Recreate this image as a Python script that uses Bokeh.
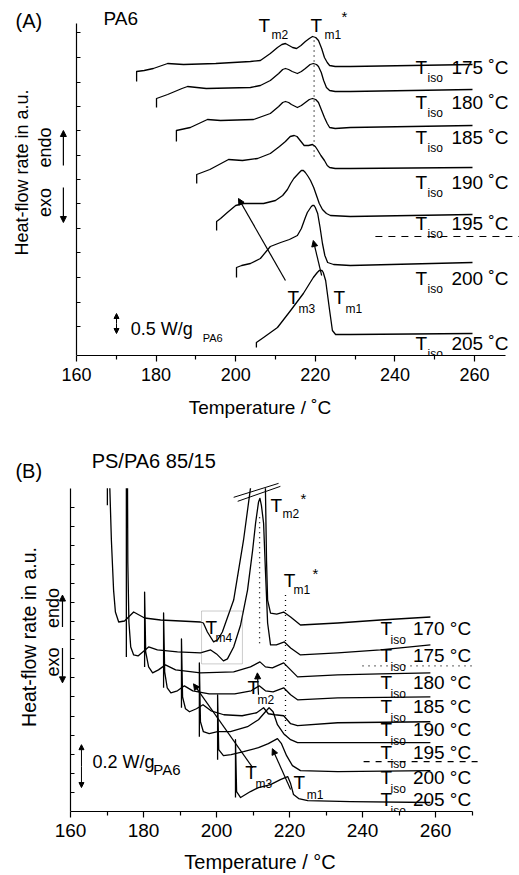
from bokeh.plotting import figure
from bokeh.models import Range1d, FixedTicker, Label, Arrow, NormalHead, BoxAnnotation, LinearAxis
from bokeh.layouts import column
from bokeh.embed import file_html
from bokeh.resources import INLINE

FONT = "Liberation Sans"

# ---------------- Panel A : PA6 (temperature in C, heat flow in a.u.) ----------------
A_TISO = ["175", "180", "185", "190", "195", "200", "205"]
A_T_175 = [175.1, 175.1, 177.0, 179.3, 182.9, 186.9, 195.0, 203.7, 206.2, 208.7, 210.5, 211.6, 212.5, 213.4, 214.3, 215.3, 216.4, 217.5, 218.5, 219.3, 220.1, 220.8, 221.6, 222.3, 223.0, 223.6, 225.0, 228.8, 259.5]
A_Q_175 = [274, 284, 285, 287, 292, 291, 292, 294, 295, 302, 308, 311, 312, 310, 308, 307, 310, 314, 317, 319, 318, 315, 307, 298, 293, 290, 289, 289, 291]
A_T_180 = [180.1, 180.1, 182.9, 186.5, 187.9, 192.6, 203.7, 206.2, 208.7, 210.8, 211.8, 212.5, 213.3, 214.2, 215.5, 216.5, 217.5, 218.7, 219.5, 220.3, 220.8, 221.5, 222.1, 222.8, 223.6, 225.0, 228.8, 259.5]
A_Q_180 = [248, 257, 261, 267, 269, 267, 268, 270, 275, 282, 286, 287, 286, 284, 282, 284, 287, 291, 292, 291, 289, 283, 275, 268, 265, 264, 264, 266]
A_T_185 = [185.1, 185.1, 188.6, 192.9, 196.2, 204.5, 208.7, 210.8, 211.8, 212.5, 213.3, 214.0, 215.5, 216.5, 217.5, 218.5, 219.3, 220.1, 220.8, 221.6, 222.3, 223.0, 223.6, 225.0, 228.8, 259.5]
A_Q_185 = [214, 225, 228, 236, 235, 236, 242, 249, 253, 254, 253, 251, 248, 250, 253, 256, 257, 256, 253, 245, 238, 232, 228, 227, 228, 230]
A_T_190 = [190.2, 190.2, 193.5, 198.2, 201.7, 205.5, 208.7, 211.0, 212.5, 213.7, 214.7, 215.4, 216.0, 217.2, 218.3, 219.3, 220.0, 220.5, 221.4, 222.3, 223.0, 223.6, 225.0, 228.8, 259.5]
A_Q_190 = [172, 181, 186, 196, 195, 197, 202, 209, 214, 219, 220, 219, 216, 210, 210, 211, 209, 206, 200, 195, 190, 188, 187, 187, 188]
A_T_195 = [195.2, 195.2, 196.2, 197.9, 200.0, 202.0, 207.0, 210.0, 211.8, 213.0, 213.8, 214.6, 215.3, 216.0, 216.5, 217.0, 217.5, 218.2, 218.8, 219.6, 220.3, 221.0, 221.8, 222.8, 223.8, 228.8, 259.5]
A_Q_195 = [125, 134, 137, 143, 150, 152, 152, 155, 160, 166, 172, 177, 180, 183, 185, 185, 183, 179, 175, 168, 160, 152, 146, 142, 140, 139, 141]
A_T_200 = [200.2, 200.2, 201.5, 203.7, 206.2, 208.7, 211.3, 213.5, 215.5, 216.5, 217.5, 218.0, 218.5, 219.0, 219.3, 219.7, 220.0, 220.6, 221.2, 221.8, 222.4, 223.1, 224.6, 228.8, 259.5]
A_Q_200 = [78, 88, 90, 92, 97, 109, 113, 116, 120, 127, 138, 143, 146, 149, 150, 150, 148, 142, 128, 112, 100, 93, 91, 90, 93]
A_T_205 = [205.2, 205.2, 207.0, 210.5, 213.8, 217.0, 219.5, 220.5, 221.0, 221.3, 221.7, 222.0, 222.6, 223.1, 223.6, 224.3, 225.1, 228.8, 259.5]
A_Q_205 = [8, 13, 18, 28, 45, 62, 78, 83, 85, 85, 85, 83, 75, 60, 45, 25, 21, 21, 22]
A_XTICKS = [160, 180, 200, 220, 240, 260]
A_XMINOR = [170, 190, 210, 230, 250]
A_YTICKS = [29, 53.5, 78, 103, 127, 152, 176, 200, 225, 249, 273, 298, 323]

# ---------------- Panel B : PS/PA6 85/15 ----------------
B_TISO = ["170", "175", "180", "185", "190", "195", "200", "205"]
B_T_170 = [170.1, 170.1, 170.6, 171.2, 171.8, 172.3, 173.2, 174.8, 177.3, 180.3, 184.7, 195.6, 196.4, 197.5, 199.2, 200.3, 201.6, 204.7, 207.4, 209.3, 210.5, 213.2, 213.4, 213.7, 214.0, 214.8, 216.5, 218.4, 220.3, 223.0, 233.2, 244.9, 258.6]
B_Q_170 = [307, 345, 345, 272, 222, 200, 190, 191, 200, 194, 192, 190, 189, 180, 170, 172, 180, 212, 272, 324, 360, 360, 324, 252, 212, 199, 198, 200, 195, 187, 189, 192, 195]
B_T_175 = [175.3, 175.3, 175.6, 175.7, 176.0, 176.5, 177.3, 178.5, 181.4, 183.8, 189.3, 195.6, 198.4, 200.0, 201.9, 203.0, 204.7, 206.6, 208.5, 209.9, 210.7, 211.5, 211.9, 212.3, 212.9, 213.4, 214.0, 214.8, 216.4, 218.6, 220.3, 223.0, 233.2, 244.9, 258.6]
B_Q_175 = [155, 345, 345, 250, 190, 165, 157, 156, 165, 162, 160, 159, 162, 158, 151, 153, 165, 187, 222, 262, 289, 310, 314, 307, 289, 242, 189, 167, 167, 170, 164, 157, 159, 162, 167]
B_T_180 = [180.3, 180.3, 180.6, 181.4, 182.5, 184.1, 186.0, 188.8, 195.6, 204.7, 209.3, 211.9, 213.4, 215.3, 218.4, 220.3, 222.2, 233.2, 244.9, 258.6]
B_Q_180 = [145, 220, 160, 145, 139, 142, 147, 142, 139, 140, 145, 150, 145, 144, 149, 142, 135, 137, 138, 139]
B_T_185 = [185.5, 185.5, 185.8, 186.5, 187.5, 189.3, 191.2, 193.5, 198.0, 205.0, 209.5, 211.7, 213.4, 215.5, 218.4, 220.3, 222.2, 233.2, 258.6]
B_Q_185 = [124, 199, 140, 124, 119, 121, 126, 121, 118, 118, 121, 126, 121, 120, 124, 117, 112, 114, 115]
B_T_190 = [190.4, 190.4, 190.7, 191.5, 192.6, 194.5, 196.3, 198.5, 202.0, 207.0, 211.0, 212.9, 214.2, 216.0, 218.4, 220.3, 222.2, 233.2, 258.6]
B_Q_190 = [104, 173, 115, 103, 100, 103, 107, 101, 97, 96, 99, 104, 98, 97, 96, 88, 86, 89, 90]
B_T_195 = [195.3, 195.3, 195.6, 196.4, 198.0, 200.3, 203.8, 208.5, 211.5, 213.4, 214.4, 215.5, 216.7, 218.4, 220.3, 222.2, 233.2, 258.6]
B_Q_195 = [75, 149, 90, 80, 78, 80, 80, 85, 92, 100, 104, 100, 87, 78, 72, 69, 69, 69]
B_T_200 = [200.3, 200.3, 200.6, 201.9, 204.0, 207.4, 211.5, 214.2, 216.7, 217.8, 219.2, 220.8, 223.0, 233.2, 258.6]
B_Q_200 = [52, 117, 62, 56, 57, 60, 64, 68, 73, 68, 56, 46, 41, 40, 41]
B_T_205 = [205.2, 205.2, 205.5, 206.6, 209.3, 211.5, 214.8, 217.5, 219.5, 220.3, 221.1, 222.5, 225.0, 236.7, 258.6]
B_Q_205 = [14, 72, 20, 14, 20, 24, 27, 32, 35, 28, 17, 13, 11, 10, 9]
B_XTICKS = [160, 180, 200, 220, 240, 260]
B_XMINOR = [170, 190, 210, 230, 250, 270]
B_YTICKS = [19, 38, 57, 76, 95, 115, 134, 153, 172, 191, 210, 229, 248, 267, 286, 305]


def base_fig(height, x_start, x_end, y_end, b_bottom, xb, yb, xticks, xminor, yticks, fs, unit):
    p = figure(width=519, height=height, x_range=Range1d(x_start, x_end), y_range=Range1d(0, y_end),
               output_backend="svg", toolbar_location=None, title=None, y_axis_location=None,
               min_border_left=0, min_border_right=0, min_border_top=0, min_border_bottom=b_bottom)
    p.outline_line_color = None
    p.xgrid.visible = False
    p.ygrid.visible = False
    p.background_fill_color = "white"
    p.border_fill_color = "white"
    xa = p.xaxis[0]
    xa.ticker = FixedTicker(ticks=xticks, minor_ticks=xminor)
    xa.bounds = xb
    xa.axis_line_width = 1.2
    xa.major_tick_line_width = 1.2
    xa.minor_tick_line_width = 1.2
    xa.major_tick_out = 6
    xa.major_tick_in = 0
    xa.minor_tick_out = 4
    xa.minor_tick_in = 0
    xa.major_label_text_font = FONT
    xa.major_label_text_font_size = fs
    xa.major_label_text_color = "black"
    xa.axis_label = "Temperature / " + unit
    xa.axis_label_text_font = FONT
    xa.axis_label_text_font_style = "normal"
    xa.axis_label_text_color = "black"
    # heat-flow axis (a.u., no numbers), drawn at T = 160 inside the frame
    ya = LinearAxis(fixed_location=160, ticker=FixedTicker(ticks=yticks, minor_ticks=[]), bounds=yb,
                    axis_line_width=1.2, major_tick_line_width=1.0, major_tick_in=4, major_tick_out=0,
                    minor_tick_in=0, minor_tick_out=0, major_label_text_font_size="0px",
                    major_label_text_color=None, major_label_standoff=0)
    p.add_layout(ya, "left")
    return p


def txt(p, x, y, s, size="19px", align="left", angle=0.0):
    p.add_layout(Label(x=x, y=y, text=s, text_font=FONT, text_font_size=size, text_color="black",
                       text_align=align, text_baseline="middle", angle=angle))


def arrow(p, x0, y0, x1, y1, size=6, lw=1.2):
    head = NormalHead(size=size, fill_color="black", line_color="black", line_width=1)
    p.add_layout(Arrow(x_start=x0, y_start=y0, x_end=x1, y_end=y1, end=head,
                       line_color="black", line_width=lw))


# ===================== Panel A =====================
pA = base_fig(430, 140.90, 271.31, 355, 75, (160, 267.7), (0, 332), A_XTICKS, A_XMINOR, A_YTICKS, "18px", "\u02daC")
pA.xaxis[0].major_label_standoff = 6
pA.xaxis[0].axis_label_standoff = 13
pA.xaxis[0].axis_label_text_font_size = "19px"

for T, Q in [(A_T_175, A_Q_175), (A_T_180, A_Q_180), (A_T_185, A_Q_185), (A_T_190, A_Q_190),
             (A_T_195, A_Q_195), (A_T_200, A_Q_200), (A_T_205, A_Q_205)]:
    pA.line(T, Q, line_color="black", line_width=1.3, line_join="round")

pA.line([219.7, 219.7], [315, 195], line_color="black", line_width=1.3, line_dash="1 4")
pA.line([235.1, 271.3], [119, 119], line_color="black", line_width=1.2, line_dash="7 6")

arrow(pA, 212.5, 75, 200.7, 157)
arrow(pA, 221.6, 80, 219.5, 115)
arrow(pA, 170.05, 32, 170.05, 42, size=5, lw=1.0)
arrow(pA, 170.05, 32, 170.05, 22, size=5, lw=1.0)

txt(pA, 144.7, 335, "(A)", "20px")
txt(pA, 166.8, 337, "PA6", "19px")
txt(pA, 205.7, 330, "T")
txt(pA, 209.0, 321, "m2", "12px")
txt(pA, 218.8, 330, "T")
txt(pA, 222.3, 321, "m1", "12px")
txt(pA, 226.6, 339, "*", "15px")
txt(pA, 213.0, 58, "T")
txt(pA, 215.8, 47, "m3", "12px")
txt(pA, 224.6, 58, "T")
txt(pA, 227.6, 47, "m1", "12px")
txt(pA, 173.6, 27, "0.5 W/g", "18px")
txt(pA, 191.7, 18, "PA6", "11px")

A_LAB_Y = [288, 253, 218, 173, 132, 77, 12]
for s, yv in zip(A_TISO, A_LAB_Y):
    txt(pA, 245.2, yv, "T")
    txt(pA, 248.2, yv - 10, "iso", "12px")
    txt(pA, 254.2, yv, s + " \u02daC")

txt(pA, 146.2, 183, "Heat-flow rate in a.u.", "18px", "center", 1.5708)
txt(pA, 152.2, 208, "endo", "18px", "center", 1.5708)
txt(pA, 152.2, 153, "exo", "18px", "center", 1.5708)
arrow(pA, 156.7, 190, 156.7, 225)
arrow(pA, 156.7, 168, 156.7, 133)

# ===================== Panel B =====================
pB = base_fig(445, 140.82, 283.01, 382, 63, (160, 270), (0, 324), B_XTICKS, B_XMINOR, B_YTICKS, "19px", "\u00b0C")
pB.xaxis[0].major_label_standoff = 6
pB.xaxis[0].axis_label_standoff = 11
pB.xaxis[0].axis_label_text_font_size = "20px"

for T, Q in [(B_T_170, B_Q_170), (B_T_175, B_Q_175), (B_T_180, B_Q_180), (B_T_185, B_Q_185),
             (B_T_190, B_Q_190), (B_T_195, B_Q_195), (B_T_200, B_Q_200), (B_T_205, B_Q_205)]:
    pB.line(T, Q, line_color="black", line_width=1.3, line_join="round")

# the traces run off scale above the top of the heat-flow axis: hide that part
pB.quad(left=[140.82], right=[283.01], bottom=[324], top=[382], fill_color="white", line_color=None)

pB.line([211.8, 211.8], [295, 165], line_color="black", line_width=1.3, line_dash="1 4")
pB.line([218.9, 218.9], [217, 72], line_color="black", line_width=1.3, line_dash="1 4")
pB.line([240.0, 271.0], [146, 146], line_color="black", line_width=1.3, line_dash="1 5")
pB.line([240.3, 271.8], [50, 50], line_color="black", line_width=1.2, line_dash="6 6")
pB.segment(x0=[204.7, 205.8], y0=[315, 311], x1=[217.0, 217.5], y1=[329, 326], line_color="black", line_width=1.0)

pB.add_layout(BoxAnnotation(left=195.9, right=207.1, bottom=148, top=201, fill_color=None,
                            line_color="#555555", line_width=1))

arrow(pB, 211.5, 117, 211.2, 139)
arrow(pB, 209.9, 44, 193.7, 128)
arrow(pB, 220.3, 22, 215.3, 63)
arrow(pB, 163.0, 45, 163.0, 67, size=5, lw=1.0)
arrow(pB, 163.0, 45, 163.0, 24, size=5, lw=1.0)

txt(pB, 144.9, 341, "(B)", "20px")
txt(pB, 165.8, 351, "PS/PA6 85/15", "20px")
txt(pB, 214.8, 307, "T")
txt(pB, 218.1, 298, "m2", "12px")
txt(pB, 223.0, 314, "*", "15px")
txt(pB, 218.4, 232, "T")
txt(pB, 221.1, 222, "m1", "12px")
txt(pB, 226.3, 239, "*", "15px")
txt(pB, 197.0, 184, "T")
txt(pB, 199.7, 174, "m4", "12px")
txt(pB, 208.5, 124, "T")
txt(pB, 211.2, 112, "m2", "12px")
txt(pB, 207.9, 39, "T")
txt(pB, 210.7, 28, "m3", "12px")
txt(pB, 221.1, 29, "T")
txt(pB, 224.7, 17, "m1", "12px")
txt(pB, 166.0, 50, "0.2 W/g", "18px")
txt(pB, 182.7, 42, "PA6", "15px")

B_LAB_Y = [183, 156, 129, 105, 82, 59, 34, 12]
for s, yv in zip(B_TISO, B_LAB_Y):
    txt(pB, 244.9, yv, "T")
    txt(pB, 247.7, yv - 11, "iso", "12px")
    txt(pB, 253.8, yv, s + " \u00b0C")

txt(pB, 148.5, 175, "Heat-flow rate in a.u.", "19.5px", "center", 1.5708)
txt(pB, 155.3, 204, "endo", "18px", "center", 1.5708)
txt(pB, 155.3, 150, "exo", "18px", "center", 1.5708)
arrow(pB, 157.8, 185, 157.8, 217)
arrow(pB, 157.8, 164, 157.8, 129)

layout = column(pA, pB)
open("out.html", "w").write(file_html(layout, INLINE))
